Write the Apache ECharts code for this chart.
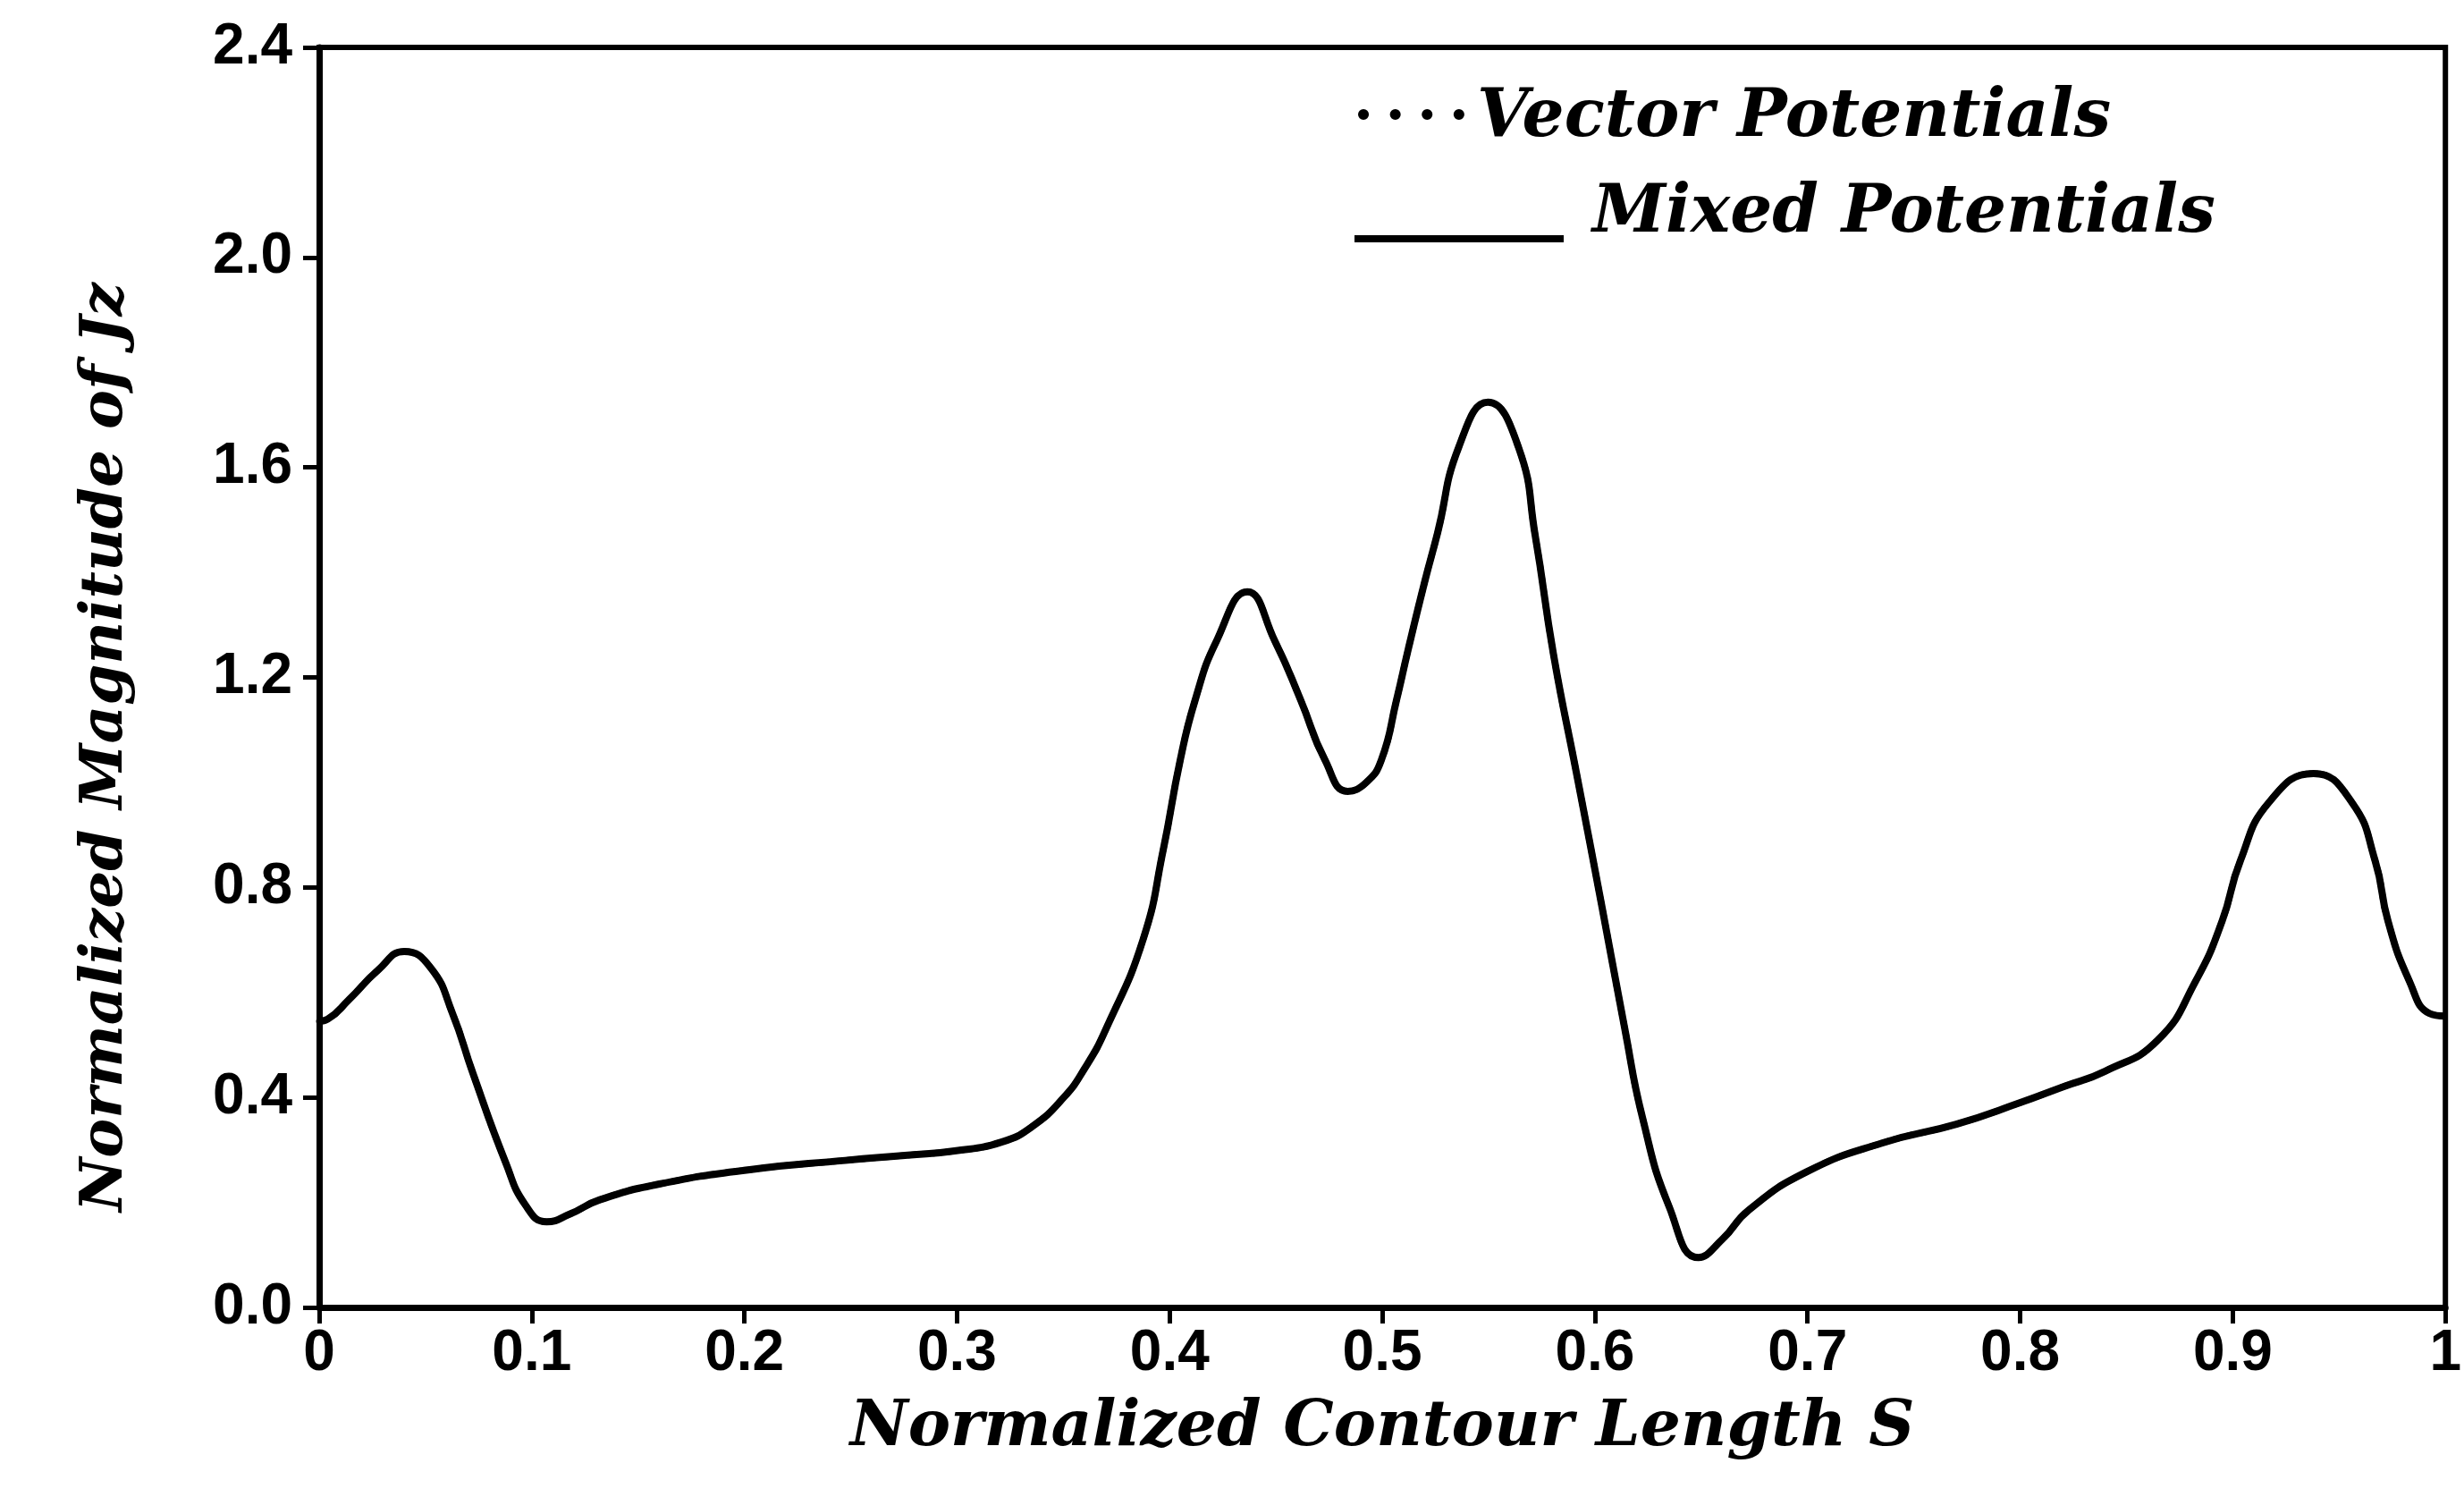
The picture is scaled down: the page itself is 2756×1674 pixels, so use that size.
<!DOCTYPE html>
<html>
<head>
<meta charset="utf-8">
<script src="https://cdn.jsdelivr.net/npm/echarts@6/dist/echarts.min.js"></script>
<style>
html,body{margin:0;padding:0;background:#fff;}
#chart{width:2756px;height:1674px;}
</style>
</head>
<body>
<div id="chart"></div>
<script>
// Normalized contour length S
const sValues = [0, 0.004, 0.014, 0.0276, 0.040, 0.0526, 0.0627, 0.0723, 0.0877, 0.097,
  0.107, 0.118, 0.132, 0.16, 0.2017, 0.2474, 0.2768, 0.2988, 0.3209, 0.3355,
  0.3502, 0.36, 0.370, 0.3876, 0.397, 0.405, 0.412, 0.422, 0.4365, 0.4495,
  0.4616, 0.473, 0.4837, 0.4925, 0.4996, 0.5067, 0.512, 0.520, 0.526, 0.536,
  0.5497, 0.564, 0.572, 0.5806, 0.5915, 0.603, 0.614, 0.6224, 0.635, 0.6487,
  0.66, 0.6725, 0.70, 0.735, 0.77, 0.80, 0.82, 0.84, 0.8647, 0.8826,
  0.895, 0.9035, 0.917, 0.938, 0.956, 0.967, 0.973, 0.983, 0.9925, 1.0];
// Mixed potentials (solid)
const jzMixed = [0.545, 0.549, 0.586, 0.642, 0.678, 0.646, 0.560, 0.446, 0.276, 0.195,
  0.163, 0.178, 0.205, 0.235, 0.262, 0.280, 0.290, 0.298, 0.315, 0.345,
  0.400, 0.455, 0.530, 0.702, 0.872, 1.043, 1.157, 1.269, 1.363, 1.269,
  1.157, 1.043, 0.983, 1.000, 1.043, 1.157, 1.250, 1.383, 1.475, 1.639,
  1.724, 1.639, 1.468, 1.242, 1.014, 0.770, 0.532, 0.361, 0.191, 0.095,
  0.130, 0.186, 0.259, 0.313, 0.349, 0.390, 0.420, 0.450, 0.509, 0.622,
  0.736, 0.850, 0.962, 1.017, 0.962, 0.850, 0.736, 0.622, 0.560, 0.555];
// Vector potentials (dotted) – coincides with the mixed-potential curve in the figure
const jzVector = [0.545, 0.549, 0.586, 0.642, 0.678, 0.646, 0.560, 0.446, 0.276, 0.195,
  0.163, 0.178, 0.205, 0.235, 0.262, 0.280, 0.290, 0.298, 0.315, 0.345,
  0.400, 0.455, 0.530, 0.702, 0.872, 1.043, 1.157, 1.269, 1.363, 1.269,
  1.157, 1.043, 0.983, 1.000, 1.043, 1.157, 1.250, 1.383, 1.475, 1.639,
  1.724, 1.639, 1.468, 1.242, 1.014, 0.770, 0.532, 0.361, 0.191, 0.095,
  0.130, 0.186, 0.259, 0.313, 0.349, 0.390, 0.420, 0.450, 0.509, 0.622,
  0.736, 0.850, 0.962, 1.017, 0.962, 0.850, 0.736, 0.622, 0.560, 0.555];
const xTickLabels = ['0', '0.1', '0.2', '0.3', '0.4', '0.5', '0.6', '0.7', '0.8', '0.9', '1'];
const yTickLabels = ['0.0', '0.4', '0.8', '1.2', '1.6', '2.0', '2.4'];
const seriesNames = ['Vector Potentials', 'Mixed Potentials'];
const xTitle = 'Normalized Contour Length S';
const yTitle = 'Normalized Magnitude of Jz';

const pair = (xs, ys) => xs.map((x, i) => [x, ys[i]]);
const scriptFont = '"DejaVu Serif", serif';
const tickFont = '"Liberation Sans", Arial, sans-serif';
const scriptStyle = {fontFamily: scriptFont, fontStyle: 'italic', fontWeight: 'bold', color: '#000'};

const chart = echarts.init(document.getElementById('chart'), null, {renderer: 'canvas'});
chart.setOption({
  backgroundColor: '#ffffff',
  animation: false,
  grid: {left: 357, right: 5, top: 53, bottom: 212, containLabel: false,
         show: true, borderColor: '#000', borderWidth: 6},
  xAxis: {
    type: 'value', min: 0, max: 1, interval: 0.1,
    axisLine: {show: true, lineStyle: {color: '#000', width: 7}},
    axisTick: {show: true, inside: false, length: 18, lineStyle: {color: '#000', width: 5}},
    splitLine: {show: false},
    axisLabel: {
      margin: 20, color: '#000', fontFamily: tickFont, fontWeight: 'bold', fontSize: 64,
      formatter: (v) => xTickLabels[Math.round(v * 10)]
    },
    name: xTitle, nameLocation: 'middle', nameGap: 100,
    nameTextStyle: Object.assign({fontSize: 71}, scriptStyle)
  },
  yAxis: {
    type: 'value', min: 0, max: 2.4, interval: 0.4,
    axisLine: {show: true, lineStyle: {color: '#000', width: 7}},
    axisTick: {show: true, inside: false, length: 18, lineStyle: {color: '#000', width: 5}},
    splitLine: {show: false},
    axisLabel: {
      margin: 30, color: '#000', fontFamily: tickFont, fontWeight: 'bold', fontSize: 64,
      formatter: (v) => yTickLabels[Math.round(v / 0.4)]
    },
    name: yTitle, nameLocation: 'middle', nameGap: 205, nameRotate: 90,
    nameTextStyle: Object.assign({fontSize: 66, padding: [0, 156, 0, 0]}, scriptStyle)
  },
  graphic: [
    {type: 'polyline', z: 10, shape: {points: [[1525, 128], [1632, 128]]},
     style: {stroke: '#000', lineWidth: 12, lineCap: 'round', lineDash: [0.1, 35.5], fill: null}},
    {type: 'text', z: 10, left: 1652, top: 127 - 31,
     style: Object.assign({text: seriesNames[0], fontSize: 74, fill: '#000'}, scriptStyle)},
    {type: 'line', z: 10, shape: {x1: 1515, y1: 267, x2: 1749, y2: 267},
     style: {stroke: '#000', lineWidth: 8}},
    {type: 'text', z: 10, left: 1781, top: 234 - 31,
     style: Object.assign({text: seriesNames[1], fontSize: 74, fill: '#000'}, scriptStyle)}
  ],
  series: [
    {
      name: seriesNames[0], type: 'line', data: pair(sValues, jzVector),
      showSymbol: false, symbol: 'none', smooth: 0.5,
      lineStyle: {color: '#000', width: 7, type: 'dotted', cap: 'round'},
      itemStyle: {color: '#000'}, z: 3
    },
    {
      name: seriesNames[1], type: 'line', data: pair(sValues, jzMixed),
      showSymbol: false, symbol: 'none', smooth: 0.5,
      lineStyle: {color: '#000', width: 8, type: 'solid'},
      itemStyle: {color: '#000'}, z: 2
    }
  ]
});
</script>
</body>
</html>
